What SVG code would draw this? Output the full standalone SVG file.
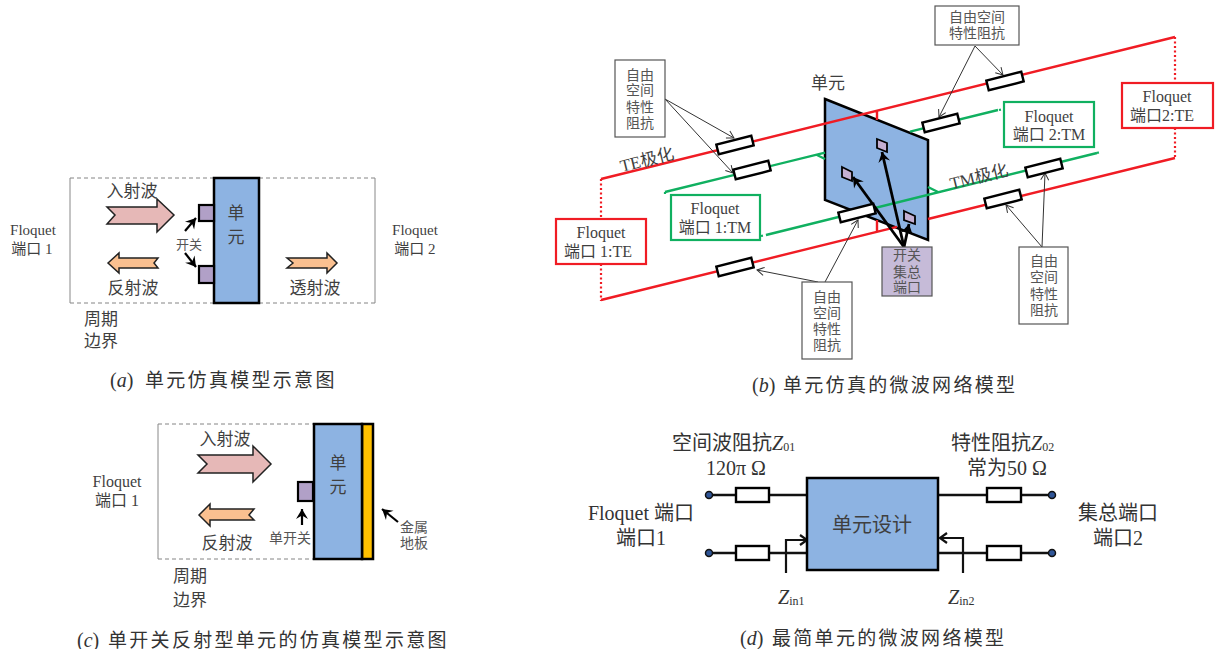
<svg xmlns="http://www.w3.org/2000/svg" width="1217" height="649" viewBox="0 0 1217 649">
<style>
text{font-family:"Liberation Serif","Noto Sans CJK SC",serif;fill:#3f3f3f;dominant-baseline:central;text-anchor:middle}
.s{font-size:13px;fill:#555}.t{font-size:14px;fill:#555}.m{font-size:15px}.f{font-size:16px}.l{font-size:17px}
.xl{font-size:20px;fill:#333}
.cap{font-size:19px;letter-spacing:2.300px;text-anchor:start;fill:#333}
.capl{font-size:20px;text-anchor:start;fill:#333}
.capl tspan{font-style:italic}
.bnd{fill:none;stroke:#666;stroke-width:.8;stroke-dasharray:4 3}
.bns{fill:none;stroke:#888;stroke-width:1}
.cell{fill:#8DB3E2;stroke:#000;stroke-width:2.500}
.sw{fill:#B1A0C7;stroke:#000;stroke-width:2.200}
.bsw{fill:#C4AFD2;stroke:#000;stroke-width:1.800}
.pink{fill:#E6B8B7;stroke:#222;stroke-width:1.500}
.org{fill:#FAC090;stroke:#222;stroke-width:1.500}
.blk{fill:none;stroke:#000;stroke-width:2.200;marker-end:url(#hk)}
.thin{fill:none;stroke:#333;stroke-width:1;marker-end:url(#op)}
.thick{fill:none;stroke:#000;stroke-width:2.800;marker-end:url(#hk)}
.red{fill:none;stroke:#F01C24;stroke-width:2.400}
.grn{fill:none;stroke:#10B060;stroke-width:2.400}
.rdot{fill:none;stroke:#F01C24;stroke-width:2.200;stroke-dasharray:2 2.500}
.gdot{fill:none;stroke:#10B060;stroke-width:2.200;stroke-dasharray:2 3}
.res{fill:#fff;stroke:#000;stroke-width:2.400}
.nb{fill:#fff;stroke:#555;stroke-width:1.200}
.wire{fill:none;stroke:#111;stroke-width:2.500}
.pt{fill:#2F5597;stroke:#111;stroke-width:1.500}
.za{fill:none;stroke:#111;stroke-width:2.200;marker-end:url(#op2)}
.sub{font-size:12px;font-style:normal}
.it{font-style:italic}
</style>
<defs>
<marker id="hk" markerUnits="userSpaceOnUse" markerWidth="16" markerHeight="14" refX="11" refY="7" orient="auto"><path d="M1 1L11 7L1 13L4.500 7Z" fill="#000"/></marker>
<marker id="op" markerUnits="userSpaceOnUse" markerWidth="12" markerHeight="12" refX="9" refY="5" orient="auto"><path d="M2 1L9 5L2 9" fill="none" stroke="#333" stroke-width="1"/></marker>
<marker id="op2" markerUnits="userSpaceOnUse" markerWidth="12" markerHeight="14" refX="9" refY="6" orient="auto"><path d="M2 1L9 6L2 11" fill="none" stroke="#111" stroke-width="2.200"/></marker>
</defs>

<g id="panel-a-boundary"><path class="bnd" d="M70 178H214M70 303H214M259 178H375M259 303H375"/><path class="bns" d="M70 178V303M375 178V303"/></g>
<g id="panel-c-boundary"><path class="bnd" d="M158 424H314M158 559H314"/><path class="bns" d="M158 424V559"/></g>
<g id="a-cell"><rect class="cell" x="214" y="178" width="45" height="125"/><text class="l" x="236" y="213">单</text><text class="l" x="236" y="237">元</text></g>
<g id="a-switch-1"><rect class="sw" x="199" y="205" width="15" height="16"/></g>
<g id="a-switch-2"><rect class="sw" x="199" y="266" width="15" height="17"/></g>
<g id="a-incident"><path class="pink" d="M107 207H157V199L174 215L157 232V224H107L115 215Z"/><text class="l" x="132" y="191">入射波</text></g>
<g id="a-reflected"><path class="org" d="M108 263L119 253V258H158L154 263L158 268H119V273Z"/><text class="l" x="133" y="288">反射波</text></g>
<g id="a-transmitted"><path class="org" d="M287 258H327V253L337 263L327 273V268H287L293 263Z"/><text class="l" x="315" y="288">透射波</text></g>
<g id="a-labels">
<text class="m" x="33" y="230">Floquet</text><text class="m" x="32" y="249">端口 1</text>
<text class="m" x="415" y="230">Floquet</text><text class="m" x="415" y="249">端口 2</text>
<text class="l" x="101" y="319">周期</text><text class="l" x="101" y="341">边界</text>
<text class="s" x="189" y="244">开关</text>
</g>
<g id="caption-a"><text class="capl" x="110" y="380">(<tspan>a</tspan>)</text><text class="cap" x="145" y="380">单元仿真模型示意图</text></g>

<g id="b-cell"><path class="cell" d="M825 99L928 140V240L825 200Z"/></g>
<g id="b-sw-1"><path class="bsw" d="M877 139L887 143V152L877 148Z"/></g>
<g id="b-sw-2"><path class="bsw" d="M842 167L852 172V181L842 177Z"/></g>
<g id="b-sw-3"><path class="bsw" d="M904 211L915 216V224L904 220Z"/></g>

<g id="connectors">
<path class="red" d="M601 179L1175 37M601 300L897 226.800M928 219L1175 158M877 111V120M877 220V232"/>
<path class="rdot" d="M601 179V228M601 264V301M1175 37V83M1175 128V158"/>
<path class="grn" d="M665 192L825 152.600M910 131.700L998 110M766 235L1097 153M817 155L825 159M928 187L938 192"/>
<path class="gdot" d="M665 192V197M999 110L1004 109M761 236L766 235M1097 153L1100 152"/>
<path class="thick" d="M904 247L882 152"/><path class="thick" d="M904 247L853 177"/><path class="thick" d="M904 247L909 224"/>
<path class="thin" d="M665 99L734 138"/><path class="thin" d="M665 99L733 173"/>
<path class="thin" d="M975 46L1003 75"/><path class="thin" d="M975 46L939 117"/>
<path class="thin" d="M825 282L858 220"/><path class="thin" d="M818 282L757 270"/>
<path class="thin" d="M1042 247L1006 205"/><path class="thin" d="M1042 247L1045 173"/>
<path class="blk" d="M185 231L196 218"/><path class="blk" d="M185 253L196 267"/>
<path class="blk" d="M302 525V509"/><path class="blk" d="M398 522L382 509"/>
<path class="wire" d="M709 495H736M769 495H807M709 553H736M769 553H807M938 495H987M1021 495H1052M938 553H987M1021 553H1052"/>
<path class="za" d="M786 573V540H807"/><path class="za" d="M963 573V538H940"/>
</g>

<g id="b-res-1"><rect class="res" x="717" y="140" width="36" height="10" transform="rotate(-14 735 145)"/></g>
<g id="b-res-2"><rect class="res" x="734" y="165" width="36" height="10" transform="rotate(-14 752 170)"/></g>
<g id="b-res-3"><rect class="res" x="987" y="76" width="36" height="10" transform="rotate(-14 1005 81)"/></g>
<g id="b-res-4"><rect class="res" x="923" y="118" width="36" height="10" transform="rotate(-14 941 123)"/></g>
<g id="b-res-5"><rect class="res" x="1026" y="163" width="36" height="10" transform="rotate(-14 1044 168)"/></g>
<g id="b-res-6"><rect class="res" x="985" y="194" width="36" height="10" transform="rotate(-14 1003 199)"/></g>
<g id="b-res-7"><rect class="res" x="839" y="208" width="36" height="10" transform="rotate(-14 857 213)"/></g>
<g id="b-res-8"><rect class="res" x="717" y="262" width="36" height="10" transform="rotate(-14 735 267)"/></g>

<g id="b-z-left"><rect class="nb" x="615" y="60" width="50" height="77"/><text class="t" x="640" y="75">自由</text><text class="t" x="640" y="90">空间</text><text class="t" x="640" y="107">特性</text><text class="t" x="640" y="123">阻抗</text></g>
<g id="b-z-top"><rect class="nb" x="935" y="6" width="84" height="39"/><text class="t" x="977" y="17">自由空间</text><text class="t" x="977" y="33">特性阻抗</text></g>
<g id="b-z-bottom"><rect class="nb" x="802" y="282" width="50" height="77"/><text class="t" x="827" y="297">自由</text><text class="t" x="827" y="313">空间</text><text class="t" x="827" y="329">特性</text><text class="t" x="827" y="345">阻抗</text></g>
<g id="b-z-right"><rect class="nb" x="1019" y="247" width="49" height="77"/><text class="t" x="1044" y="261">自由</text><text class="t" x="1044" y="277">空间</text><text class="t" x="1044" y="294">特性</text><text class="t" x="1044" y="310">阻抗</text></g>
<g id="b-lump"><rect x="882" y="247" width="50" height="49" fill="#C6BBD8" stroke="#555" stroke-width="1.200"/><text class="t" x="907" y="255">开关</text><text class="t" x="907" y="272">集总</text><text class="t" x="907" y="287">端口</text></g>

<g id="b-te1"><rect x="556" y="219" width="90" height="45" fill="#fff" stroke="#F01C24" stroke-width="2.200"/><text class="f" x="601" y="232">Floquet</text><text class="f" x="598" y="251">端口 1:TE</text></g>
<g id="b-tm1"><rect x="671" y="195" width="89" height="45" fill="#fff" stroke="#10B060" stroke-width="2.200"/><text class="f" x="715" y="208">Floquet</text><text class="f" x="715" y="227">端口 1:TM</text></g>
<g id="b-tm2"><rect x="1004" y="102" width="90" height="45" fill="#fff" stroke="#10B060" stroke-width="2.200"/><text class="f" x="1049" y="116">Floquet</text><text class="f" x="1049" y="134">端口 2:TM</text></g>
<g id="b-te2"><rect x="1122" y="83" width="91" height="45" fill="#fff" stroke="#F01C24" stroke-width="2.200"/><text class="f" x="1167" y="96">Floquet</text><text class="f" x="1162" y="115">端口2:TE</text></g>
<g id="b-labels">
<text class="l" x="828" y="83">单元</text>
<text class="l" transform="rotate(-14 647 160)" x="647" y="160">TE极化</text>
<text class="l" transform="rotate(-14 979 177)" x="979" y="177">TM极化</text>
</g>
<g id="caption-b"><text class="capl" x="752" y="385">(<tspan>b</tspan>)</text><text class="cap" x="783" y="385">单元仿真的微波网络模型</text></g>

<g id="c-cell"><rect x="362" y="424" width="11" height="135" fill="#FFC000" stroke="#000" stroke-width="2.500"/><rect class="cell" x="314" y="424" width="48" height="135"/><text class="l" x="338" y="463">单</text><text class="l" x="338" y="487">元</text></g>
<g id="c-switch"><rect class="sw" x="298" y="482" width="15" height="19"/></g>
<g id="c-incident"><path class="pink" d="M198 455H253V446L271 464L253 482V473H198L207 464Z"/><text class="l" x="225" y="439">入射波</text></g>
<g id="c-reflected"><path class="org" d="M199 515L210 504V509H254L249 515L254 520H210V526Z"/><text class="l" x="227" y="543">反射波</text></g>
<g id="c-labels">
<text class="f" x="117" y="481">Floquet</text><text class="f" x="117" y="500">端口 1</text>
<text class="l" x="190" y="576">周期</text><text class="l" x="190" y="600">边界</text>
<text class="t" x="290" y="538">单开关</text>
<text class="t" x="414" y="527">金属</text><text class="t" x="414" y="543">地板</text>
</g>
<g id="caption-c"><text class="capl" x="77" y="640">(<tspan>c</tspan>)</text><text class="cap" x="108" y="640">单开关反射型单元的仿真模型示意图</text></g>

<g id="d-block"><rect class="cell" x="807" y="478" width="131" height="92"/><text x="872" y="525" style="font-size:20px">单元设计</text></g>
<g id="d-res-1"><rect class="res" x="736" y="488" width="33" height="14"/></g>
<g id="d-res-2"><rect class="res" x="736" y="546" width="33" height="14"/></g>
<g id="d-res-3"><rect class="res" x="987" y="488" width="34" height="14"/></g>
<g id="d-res-4"><rect class="res" x="987" y="546" width="34" height="14"/></g>
<g id="d-ports"><circle class="pt" cx="709" cy="495" r="3.500"/><circle class="pt" cx="709" cy="553" r="3.500"/><circle class="pt" cx="1052" cy="495" r="3.500"/><circle class="pt" cx="1052" cy="553" r="3.500"/></g>
<g id="d-labels">
<text class="xl" x="672" y="443" style="text-anchor:start">空间波阻抗<tspan class="it">Z</tspan><tspan class="sub" dy="4">01</tspan></text>
<text class="xl" x="736" y="468">120π Ω</text>
<text class="xl" x="951" y="443" style="text-anchor:start">特性阻抗<tspan class="it">Z</tspan><tspan class="sub" dy="4">02</tspan></text>
<text class="xl" x="1007" y="468">常为50 Ω</text>
<text class="xl" x="641" y="513">Floquet 端口</text><text class="xl" x="641" y="538">端口1</text>
<text class="xl" x="1118" y="513">集总端口</text><text class="xl" x="1118" y="538">端口2</text>
<text class="xl" x="778" y="597" style="text-anchor:start"><tspan class="it">Z</tspan><tspan class="sub" dy="4">in1</tspan></text>
<text class="xl" x="948" y="597" style="text-anchor:start"><tspan class="it">Z</tspan><tspan class="sub" dy="4">in2</tspan></text>
</g>
<g id="caption-d"><text class="capl" x="740" y="638">(<tspan>d</tspan>)</text><text class="cap" x="772" y="638">最简单元的微波网络模型</text></g>
</svg>
